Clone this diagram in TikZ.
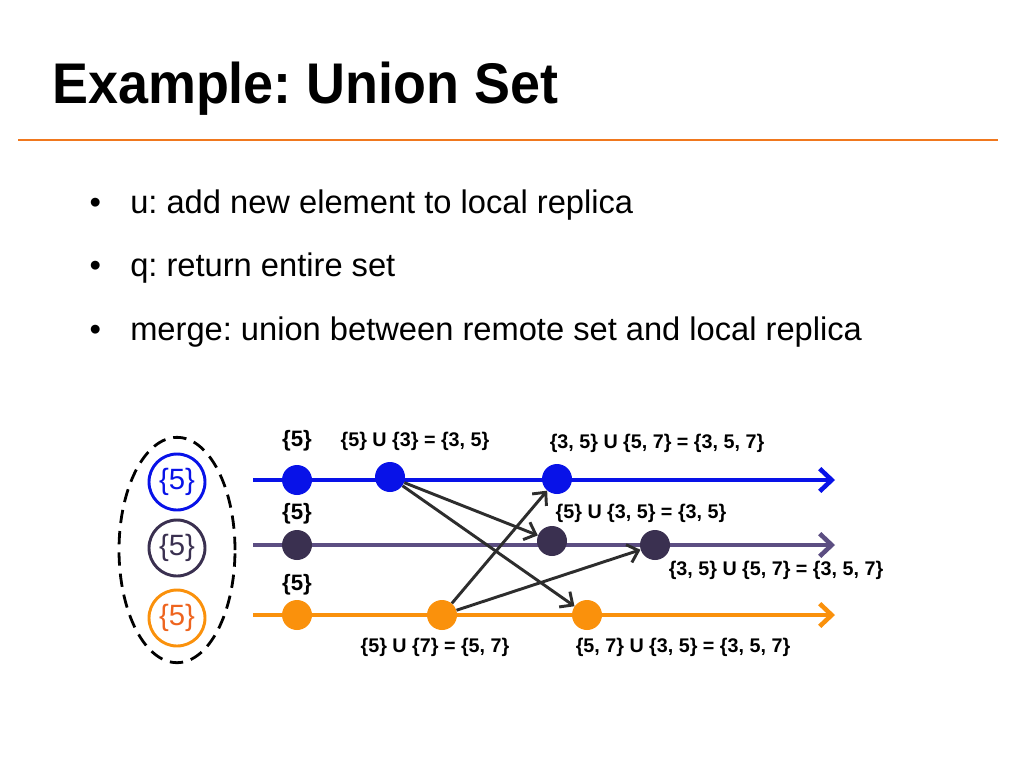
\documentclass[tikz,border=0pt]{standalone}
\usepackage{fontspec}
\setmainfont{Liberation Sans}
\usepackage{tikz}
\usetikzlibrary{shapes.geometric,arrows.meta,positioning}
\frenchspacing
\definecolor{repblue}{RGB}{8,18,232}
\definecolor{repline}{RGB}{92,78,130}
\definecolor{repdark}{RGB}{58,48,80}
\definecolor{reporange}{RGB}{250,145,12}
\definecolor{reptext}{RGB}{238,100,30}
\definecolor{rulecol}{RGB}{240,120,30}
\definecolor{msggray}{RGB}{45,45,45}
\tikzstyle{dot} = [circle, minimum size=22.5pt, inner sep=0pt]
\tikzstyle{replica} = [circle, draw, line width=2.2pt, minimum size=42pt, inner sep=0pt, font=\fontsize{22}{26}\selectfont]
\tikzstyle{timeline} = [line width=3.4pt, -{Straight Barb[length=9pt, width=17pt]}]
\tikzstyle{msg} = [line width=2.2pt, draw=msggray, -{Straight Barb[length=7.5pt, width=14pt]}]
\tikzstyle{lbl} = [font=\bfseries\fontsize{14.8}{17}\selectfont, inner sep=0pt]
\tikzstyle{state} = [lbl, font=\bfseries\fontsize{16.7}{19}\selectfont]
\tikzstyle{item} = [anchor=base west, inner sep=0pt, font=\fontsize{24.5}{28}\selectfont]

\begin{document}
\begin{tikzpicture}[x=0.75pt, y=-0.75pt]
    \useasboundingbox (0,0) rectangle (1024,768);
    % heading
    \node (title) [anchor=base west, inner sep=0pt, font=\bfseries\fontsize{43}{50}\selectfont] at (52,103) {\scalebox{0.94}[1]{Example: Union Set}};
    \draw [rulecol, line width=1.8pt] (18,140) -- (998,140);
    \node (i1) [item] at (130,213) {u: add new element to local replica};
    \node (i2) [item] at (130,276) {q: return entire set};
    \node (i3) [item] at (130,340) {merge: union between remote set and local replica};
    \foreach \n in {i1,i2,i3}
        \node [anchor=base, inner sep=0pt, font=\fontsize{24.5}{28}\selectfont] at ([xshift=-26pt]\n.base west) {\textbullet};
    % replicas
    \node (grp) [ellipse, draw, dashed, dash pattern=on 10pt off 6pt, line width=2.1pt, minimum width=87pt, minimum height=169pt] at (177,550) {};
    \node (rb) [replica, draw=repblue, text=repblue] at (177,482) {\{5\}};
    \node (rp) [replica, draw=repdark, text=repdark] at (177,548) {\{5\}};
    \node (ro) [replica, draw=reporange, text=reptext] at (177,618) {\{5\}};
    % timelines
    \coordinate (bs) at (253,480);
    \coordinate (be) at (835,480);
    \coordinate (ps) at (253,545);
    \coordinate (pe) at (835,545);
    \coordinate (os) at (253,615);
    \coordinate (oe) at (835,615);
    \draw [timeline, repblue] (bs) -- (be);
    \draw [timeline, repline] (ps) -- (pe);
    \draw [timeline, reporange] (os) -- (oe);
    \node (b1) [dot, fill=repblue] at (297,480) {};
    \node (b2) [dot, fill=repblue] at (390,477) {};
    \node (b3) [dot, fill=repblue] at (557,479) {};
    \node (p1) [dot, fill=repdark] at (297,545) {};
    \node (p2) [dot, fill=repdark] at (552,541) {};
    \node (p3) [dot, fill=repdark] at (655,545) {};
    \node (o1) [dot, fill=reporange] at (297,615) {};
    \node (o2) [dot, fill=reporange] at (442,615) {};
    \node (o3) [dot, fill=reporange] at (587,615) {};
    % merges
    \draw [msg] (b2) -- (p2);
    \draw [msg] (b2) -- (o3);
    \draw [msg] (o2) -- (b3);
    \draw [msg] (o2) -- (p3);
    % states
    \node (sb1) [state] at (297,441) {\{5\}};
    \node (sb2) [lbl] at (415,441) {\{5\} U \{3\} = \{3, 5\}};
    \node (sb3) [lbl] at (657,443) {\{3, 5\} U \{5, 7\} = \{3, 5, 7\}};
    \node (sp1) [state] at (297,514) {\{5\}};
    \node (sp2) [lbl] at (641,513) {\{5\} U \{3, 5\} = \{3, 5\}};
    \node (sp3) [lbl] at (776,570) {\{3, 5\} U \{5, 7\} = \{3, 5, 7\}};
    \node (so1) [state] at (297,585) {\{5\}};
    \node (so2) [lbl] at (435,647) {\{5\} U \{7\} = \{5, 7\}};
    \node (so3) [lbl] at (683,647) {\{5, 7\} U \{3, 5\} = \{3, 5, 7\}};
\end{tikzpicture}
\end{document}
